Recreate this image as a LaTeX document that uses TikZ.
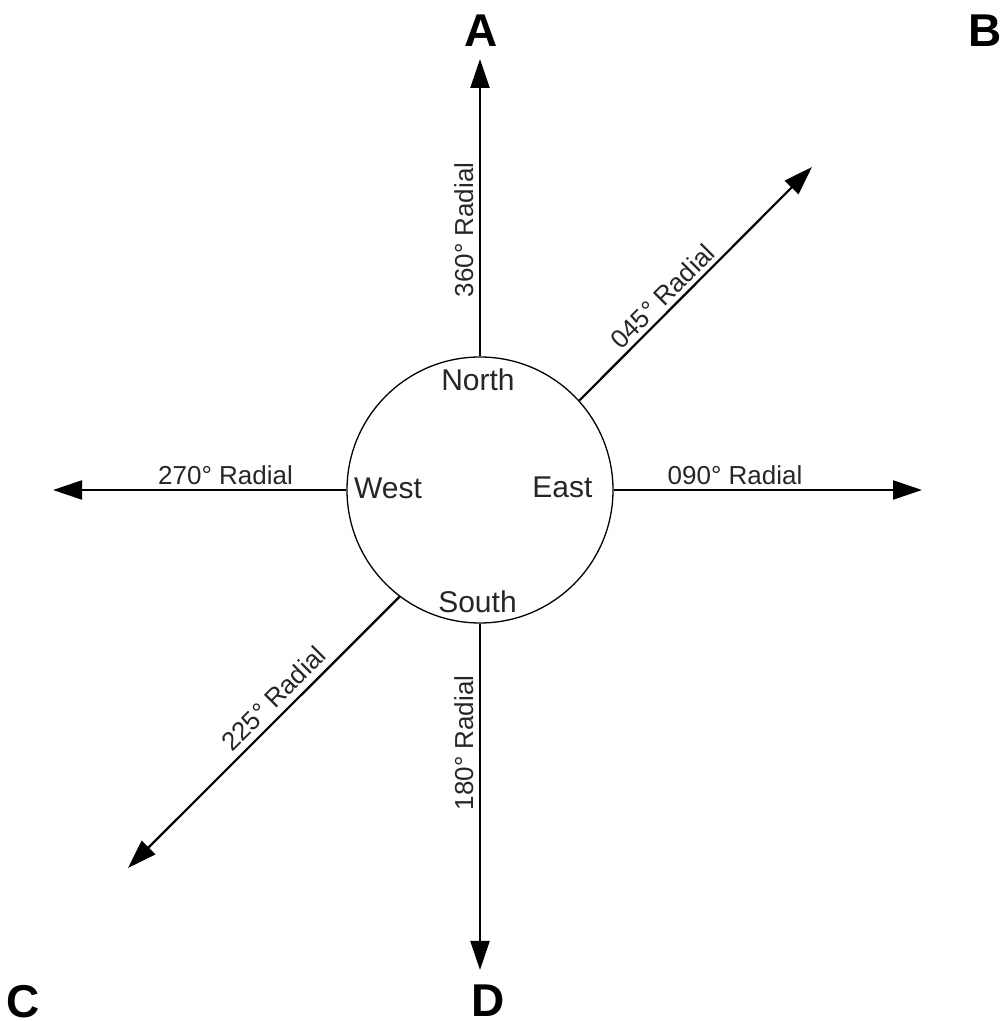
\documentclass[tikz,border=0pt]{standalone}
\usepackage{fontspec}
\setmainfont{Liberation Sans}
\usetikzlibrary{arrows.meta}
\definecolor{txt}{HTML}{262626}
\begin{document}
\begin{tikzpicture}[x=1pt,y=1pt,
  radial/.style={line width=2.2pt,-{Triangle[length=29pt,width=19pt]}},
  corner/.style={font=\fontsize{46}{46}\selectfont\bfseries,anchor=base,inner sep=0pt},
  compass/.style={font=\fontsize{30}{30}\selectfont,text=txt,anchor=base,inner sep=0pt},
  rlabel/.style={font=\fontsize{26}{26}\selectfont,text=txt,anchor=base,inner sep=0pt}]
\useasboundingbox (0,0) rectangle (1005,1021);
\node[draw,circle,line width=1.3pt,minimum size=266pt,inner sep=0pt] (c) at (480,531) {};
\coordinate (tn) at (480,962);
\coordinate (ts) at (480,51);
\coordinate (te) at (922,531);
\coordinate (tw) at (53,531);
\coordinate (tne) at (812,854);
\coordinate (tsw) at (128,153);
\draw[radial] (c.north) -- (tn);
\draw[radial] (c.south) -- (ts);
\draw[radial] (c.east) -- (te);
\draw[radial] (c.west) -- (tw);
\draw[radial] (c.42) -- (tne);
\draw[radial] (c.233.5) -- (tsw);
\node[corner] (A) at (481,974) {A};
\node[corner] (B) at (985,974) {B};
\node[corner] (C) at (23,4) {C};
\node[corner] (D) at (488.5,5) {D};
\node[compass] (N) at (478,630) {North};
\node[compass] (W) at (388,522) {West};
\node[compass] (E) at (562.5,523) {East};
\node[compass] (S) at (477.5,408) {South};
\node[rlabel] (l270) at (225.5,536) {270° Radial};
\node[rlabel] (l090) at (735,536) {090° Radial};
\node[rlabel,rotate=90] (l360) at (473,791) {360° Radial};
\node[rlabel,rotate=90] (l180) at (473,278) {180° Radial};
\node[rlabel,rotate=45] (l045) at (669,718) {045° Radial};
\node[rlabel,rotate=45] (l225) at (280,316) {225° Radial};
\end{tikzpicture}
\end{document}
